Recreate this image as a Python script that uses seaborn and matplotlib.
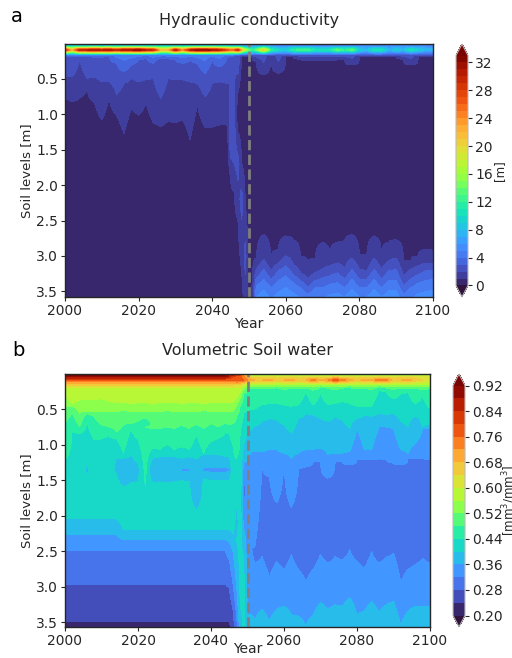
import numpy as np
import seaborn as sns
import matplotlib
matplotlib.use('Agg')
import matplotlib.pyplot as plt

n = float('nan')

sns.set_style('ticks')
plt.rcParams['font.family'] = ['DejaVu Sans']

# years of the columns, finer around the 2050 shift
years = list(range(2000, 2045, 2)) + list(range(2045, 2053)) + list(range(2054, 2101, 2))
none_pre = [n] * 23
none_mid = [n] * 8
none_post = [n] * 24

# ---- panel a: hydraulic conductivity ----
levels_a = list(range(0, 34))
ticks_a = list(range(0, 33, 4))

# values in the surface layers
surf_depths_a = [0.007, 0.04, 0.09, 0.16]
surf0_a = [4] * 23 + [4, 4, 4, 3, 2, 2, 2, 2] + [2.5] * 24
surf1_a = [10] * 23 + [9, 9, 9, 8, 7, 7, 7, 7] + [8, 6.5, 6, 6, 6.5, 6.5, 6.5, 6, 6, 6, 6.5, 6.5, 6.5, 6, 5.5, 6, 6, 5.5, 6, 5.5, 6, 6, 5.5, 5.5]
peak_a = [30, 22, 31, 31, 32, 31, 32, 30, 32, 32, 33, 31, 30, 22, 22, 31, 24, 31, 33, 33, 32, 31, 28, 26, 27, 30, 22, 17, 14, 12, 14,
          21, 12, 10, 9, 12, 13, 13, 11, 11, 11, 14, 12, 14, 9, 8, 11, 11, 7.5, 9, 8, 11, 9, 8, 8]
surf3_a = [4.5] * 23 + [4.5, 4, 3, 2.6, 2.6, 2.6, 2.6, 2.6] + [2.6] * 24

# depth of the contours
k3_a = [.18, .18, .18, .18, .19, .19, .18, .28, .40, .30, .23, .19, .28, .37, .21, .23, .28, .23, .28, .42, .23, .33, .19] + [.18, .17, n, n, n, n, n, n] + none_post
k2_a = [.47, .47, .22, .49, .47, .54, .54, .72, .56, .49, .54, .51, .49, .24, .49, .51, .51, .54, .56, .75, .56, .54, .56] + [.55, .30, n, n, n, n, n, n] + none_post
k1_a = [.75, .82, .77, .65, .84, 1.08, .75, 1.01, 1.27, .91, 1.01, .84, 1.12, 1.17, 1.10, 1.12, 1.08, 1.36, .87, 1.18, 1.18, 1.15, 1.15] + \
       [n, n, .7, .18, .18, .18, .2, .25] + \
       [.44, .18, .42, .18, .18, .22, .24, .22, .24, .24, .22, .22, .30, .18, .18, .18, .18, .18, .18, .22, .30, .18, .18, .18]
dark_a = [1.5] * 23 + [n, n, 1.0, .7, 1.0, 1.0, 1.5, 1.5] + [1.5] * 24

# streak running down into the deep soil
streak_top_a = none_pre + [n, n, 1.25, 1.7, 2.3, n, n, n] + none_post
streak_mid_a = none_pre + [1.5, 1.55, 1.7, 2.2, 3.0, n, n, n] + none_post
streak_bot_a = none_pre + [1.9, 2.1, 2.5, 3.2, n, n, n, n] + none_post

# deep contours after 2050
c1_a = none_pre + [n, n, n, n, n, n, 3.3, 3.03] + [2.70, 3.05, 2.91, 2.72, 2.77, 3.00, 3.10, 3.03, 2.81, 2.96, 2.81, 2.79, 2.70, 2.98, 3.00, 2.72, 2.96, 2.81, 2.77, 3.07, 3.07, 3.00, 2.91, 2.93]
c2_a = none_pre + [n, n, n, n, n, n, n, 3.19] + [3.05, 3.21, 3.10, 3.00, 3.12, 3.24, 3.33, 3.24, 3.19, 3.14, 3.10, 3.19, 3.03, 3.19, 3.21, 3.03, 3.19, 3.07, 3.03, 3.28, 3.19, 3.14, 3.10, 3.10]
c3_a = none_pre + [n, n, n, n, n, n, n, 3.31] + [3.19, 3.33, 3.21, 3.14, 3.26, 3.35, 3.45, 3.35, 3.31, 3.28, 3.24, 3.33, 3.19, 3.33, 3.33, 3.19, 3.33, 3.21, 3.19, 3.42, 3.33, 3.26, 3.21, 3.21]
c4_a = none_pre + [n, n, n, n, n, n, n, 3.42] + [3.33, 3.45, 3.35, 3.28, 3.38, 3.45, 3.54, 3.45, 3.45, 3.40, 3.38, 3.45, 3.33, 3.45, 3.45, 3.33, 3.45, 3.35, 3.35, 3.54, 3.45, 3.38, 3.35, 3.33]
bottom_a = [.2] * 23 + [.2, .2, .2, .6, 1.5, .4, 1.4, 5.0] + [5.6, 4.8, 5.4, 5.8, 5.4, 4.9, 4.2, 4.9, 4.9, 5.2, 5.4, 5.0, 5.8, 5.0, 5.0, 5.7, 5.0, 5.6, 5.6, 4.2, 4.8, 5.3, 5.5, 5.6]

# ---- panel b: volumetric soil water ----
levels_b = [round(0.20 + 0.04 * i, 2) for i in range(19)]
ticks_b = levels_b[::2]

surf_depths_b = [0.005, 0.04, 0.09, 0.16]
surf0_b = [.96, .97, .94, .98, .97, .95, .98, .96, .99, 1.0, 1.0, 1.0, .97, .95, .98, 1.0, .97, .95, .99, .98, .97, .96, .93] + \
          [.90, .88, .86, .82, .72, .6, .5, .45] + \
          [.5, .44, .46, .5, .48, .44, .5, .46, .5, .46, .5, .44, .48, .5, .44, .46, .5, .46, .44, .5, .46, .5, .44, .48]
surf1_b = [.90] * 23 + [.84, .80, .78, .76, .72, .66, .62, .62] + [.62] * 24
peak_b = [.76] * 23 + [.76, .76, .78, .78, .76, .72, .70, .68] + \
         [.68, .70, .66, .68, .70, .66, .68, .74, .68, .72, .78, .74, .70, .66, .70, .68, .76, .74, .66, .68, .70, .66, .64, .62]
surf3_b = [.64] * 23 + [.64, .64, .63, .62, .58, .55, .55, .55] + [.55] * 24

v60 = [.19] * 23 + [.19, .19, .19, .2, n, n, n, n] + none_post
v56 = [.32, .42, .37, .37, .37, .35, .39, .41, .41, .42, .41, .41, .42, .41, .40, .41, .42, .41, .41, .42, .41, .41, .41] + [.41, .41, .35, .26, .19, n, n, n] + none_post
v52 = [.46, .46, .56, .53, .53, .53, .53, .53, .52, .53, .53, .54, .53, .53, .52, .53, .54, .53, .53, .52, .53, .53, .53] + [.53, .53, .45, .35, .22, .18, n, n] + none_post
v48 = [.70, .56, .75, .56, .60, .72, .75, .82, .72, .70, .67, .75, .77, .77, .75, .77, .72, .77, .72, .77, .70, .75, .70] + [.72, .70, .60, .45, .28, .2, .2, .2] + \
      [.20, .21, .19, .22, .2, .21, .2, .23, .19, .2, .22, .2, .19, .21, .2, .22, .19, .2, .22, .2, .21, .2, .22, .21]
v44 = [1.21, .75, .84, .65, .93, .91, .82, .91, 1.12, .79, .93, .70, 1.05, 1.07, 1.0, 1.07, 1.03, 1.07, .86, 1.12, .96, .91, .82] + [.85, 1.0, 1.2, .8, .55, .52, .5, .5] + \
      [.44, .42, .42, .44, .46, .44, .25, .44, .28, .44, .42, .39, .42, .46, .46, .46, .23, .25, .35, .28, .25, .42, .32, .49]

# pockets of drier soil around 1.4 m, and the upper contours after 2050
v40_top = [n, n, n, 1.26, n, n, n, 1.19, 1.19, 1.14, 1.26, n, 1.19, 1.17, 1.17, 1.17, 1.19, 1.17, 1.2, 1.14, 1.14, 1.14, 1.17] + [1.17, n, 1.85, n, 1.0, .85, .78, .74] + \
          [.67, .63, .65, .72, .84, .63, .56, .58, .63, .67, .60, .65, .77, .63, .58, .60, .56, .58, .56, .67, .75, .77, .75, .72]
v40_bot = [n, n, n, 1.43, n, n, n, 1.40, 1.59, 1.54, 1.52, n, 1.54, 1.52, 1.54, 1.52, 1.50, 1.52, 1.92, 1.47, 1.50, 1.50, 1.50] + [1.5, n, 2.35, n, 2.6, n, n, n] + none_post
pocket_depth = [n, n, n, 1.36, n, n, n, 1.36, 1.36, 1.36, 1.36, n, 1.36, 1.36, 1.36, 1.36, 1.36, 1.36, 1.7, 1.36, 1.36, 1.36, 1.36] + [1.36, n, 2.1, n, n, n, n, n] + none_post
pocket_value = [n, n, n, .39, n, n, n, .385, .38, .38, .385, n, .355, .375, .358, .375, .355, .355, .365, .35, .35, .35, .35] + [.355, n, .385, n, n, n, n, n] + none_post
teal_depth = [1.98] * 23 + [1.98, 1.98, 1.7, 1.98, n, n, n, n] + none_post

# flat deep layers before 2050
v40_deep = [2.04] * 8 + [2.2] * 15 + [2.2, 2.25, n, 3.3, n, n, n, n] + none_post
v36_deep = [2.27] * 8 + [2.34] * 15 + [2.36, 2.5, 3.0, n, n, n, n, n] + none_post
v32_deep = [2.49] * 23 + [2.62, 2.95, 3.4, n, n, n, n, n] + none_post
v28_deep = [2.97] * 23 + [3.02, 3.3, n, n, n, n, n, n] + none_post
v24_deep = [3.49] * 23 + [3.5, n, n, n, n, n, n, n] + none_post

# blue core after 2050
v36_top = none_pre + [n, n, n, n, 1.25, 1.15, 1.1, 1.1] + [1.10, 1.07, 1.07, 1.12, 1.19, 1.12, 1.07, 1.07, 1.05, 1.14, 1.12, 1.12, 1.10, .77, 1.07, 1.07, .75, .75, .77, 1.07, 1.12, .77, .77, .77]
v32_top = none_pre + [n, n, n, n, 1.4, n, n, 2.44] + [1.30, 1.45, 1.82, 1.24, 1.88, 1.33, 1.31, 1.24, 1.24, 1.47, 1.24, 1.24, 1.28, 1.21, 1.21, 1.21, 1.19, 1.21, 1.26, 1.28, 1.19, 1.19, 1.19, 1.21]
core_depth = none_pre + [n, n, n, n, 1.65, 2.47, 2.47, 2.47] + [2.47] * 24
core_value = none_pre + [n, n, n, n, .30, .335, .325, .30] + [.30] * 24
v32_bot = none_pre + [n, n, n, n, 1.9, n, n, 2.67] + [2.58, 2.86, 2.65, 2.76, 2.55, 2.76, 2.93, 2.76, 2.55, 2.67, 2.58, 2.62, 2.48, 2.65, 2.74, 2.51, 2.67, 2.58, 2.53, 2.95, 2.76, 2.69, 2.60, 2.67]
v36_bot = none_pre + [n, n, n, n, 2.2, 3.4, 3.4, 3.47] + [3.33, 3.49, 3.33, 3.28, 3.40, 3.42, 3.56, 3.40, 3.23, 3.33, 3.26, 3.28, 3.16, 3.40, 3.35, 3.21, 3.37, 3.26, 3.21, 3.55, 3.35, 3.28, 3.28, 3.28]
bottom_b = [.23] * 23 + [.23, .26, .30, .38, .41, .375, .375, .37] + [.385, .37, .385, .39, .38, .38, .362, .38, .39, .385, .39, .39, .395, .38, .385, .39, .38, .39, .39, .362, .385, .39, .39, .39]


def build_field(knots, depth_grid):
    # each knot is (values, depths), either one may be a single number
    field = np.zeros((len(depth_grid), len(years)))
    for i in range(len(years)):
        pts = []
        for vals, deps in knots:
            v = vals[i] if isinstance(vals, list) else vals
            d = deps[i] if isinstance(deps, list) else deps
            if not (np.isnan(v) or np.isnan(d)):
                pts.append((d, v))
        pts.sort()
        field[:, i] = np.interp(depth_grid, [p[0] for p in pts], [p[1] for p in pts])
    return field


top_a, base_a = 0.007, 3.58
top_b, base_b = 0.005, 3.57
depth_a = np.linspace(top_a, base_a, 500)
depth_b = np.linspace(top_b, base_b, 500)

field_a = build_field([
    (surf0_a, surf_depths_a[0]), (surf1_a, surf_depths_a[1]), (peak_a, surf_depths_a[2]), (surf3_a, surf_depths_a[3]),
    (3, k3_a), (2, k2_a), (1, k1_a), (.2, dark_a),
    (1, streak_top_a), (2.4, streak_mid_a), (1, streak_bot_a),
    (1, c1_a), (2, c2_a), (3, c3_a), (4, c4_a), (bottom_a, base_a),
], depth_a)

field_b = build_field([
    (surf0_b, surf_depths_b[0]), (surf1_b, surf_depths_b[1]), (peak_b, surf_depths_b[2]), (surf3_b, surf_depths_b[3]),
    (.60, v60), (.56, v56), (.52, v52), (.48, v48), (.44, v44),
    (.40, v40_top), (pocket_value, pocket_depth), (.40, v40_bot), (.42, teal_depth),
    (.40, v40_deep), (.36, v36_deep), (.32, v32_deep), (.28, v28_deep), (.24, v24_deep),
    (.36, v36_top), (.32, v32_top), (core_value, core_depth), (.32, v32_bot), (.36, v36_bot),
    (bottom_b, base_b),
], depth_b)

W, H = 512, 658


def px_axes(fig, left, top, right, bottom):
    return fig.add_axes([left / W, 1 - bottom / H, (right - left) / W, (bottom - top) / H])


def draw_panel(fig, box, cbox, field, depth, levels, ticks, ylim, vrange, title, cbar_label, fmt, label_pad, year_pad):
    ax = px_axes(fig, *box)
    cax = px_axes(fig, *cbox)
    cmap = sns.color_palette('turbo', as_cmap=True)
    cf = ax.contourf(years, depth, field, levels=levels, cmap=cmap, extend='both',
                     vmin=vrange[0], vmax=vrange[1])
    ax.axvline(2050, color='gray', ls='--', lw=2)
    ax.set_xlim(2000, 2100)
    ax.set_ylim(*ylim)
    ax.set_xticks(range(2000, 2101, 20))
    ax.set_yticks([0.5, 1.0, 1.5, 2.0, 2.5, 3.0, 3.5])
    ax.tick_params(labelsize=10, length=3, pad=2)
    for sp in ax.spines.values():
        sp.set_linewidth(1.0)
    ax.set_xlabel('Year', fontsize=10, labelpad=year_pad)
    ax.set_ylabel('Soil levels [m]', fontsize=9.5, labelpad=2)
    ax.set_title(title, fontsize=11.5, pad=14)
    cb = fig.colorbar(cf, cax=cax, ticks=ticks, format=fmt)
    cb.ax.tick_params(labelsize=10, length=3, pad=2)
    cb.outline.set_edgecolor('#bbbbbb')
    cb.set_label(cbar_label, fontsize=8.5, labelpad=label_pad)
    return ax


fig = plt.figure(figsize=(W / 100, H / 100), dpi=100)
draw_panel(fig, (65, 44, 433, 297), (456, 44, 468, 297), field_a, depth_a, levels_a, ticks_a,
           (base_a, top_a), (-0.5, 33), 'Hydraulic conductivity', '[m]', '%d', 0, -1)
draw_panel(fig, (65, 374, 430, 627), (453, 374, 465, 627), field_b, depth_b, levels_b, ticks_b,
           (base_b, top_b), (0.20, 0.92), 'Volumetric Soil water', '[mm$^3$/mm$^3$]', '%.2f', -2, -4)
fig.text(11 / W, 1 - 17 / H, 'a', fontsize=14, va='center', color='black')
fig.text(12 / W, 1 - 351 / H, 'b', fontsize=14, va='center', color='black')
fig.savefig('out.png', dpi=100)
